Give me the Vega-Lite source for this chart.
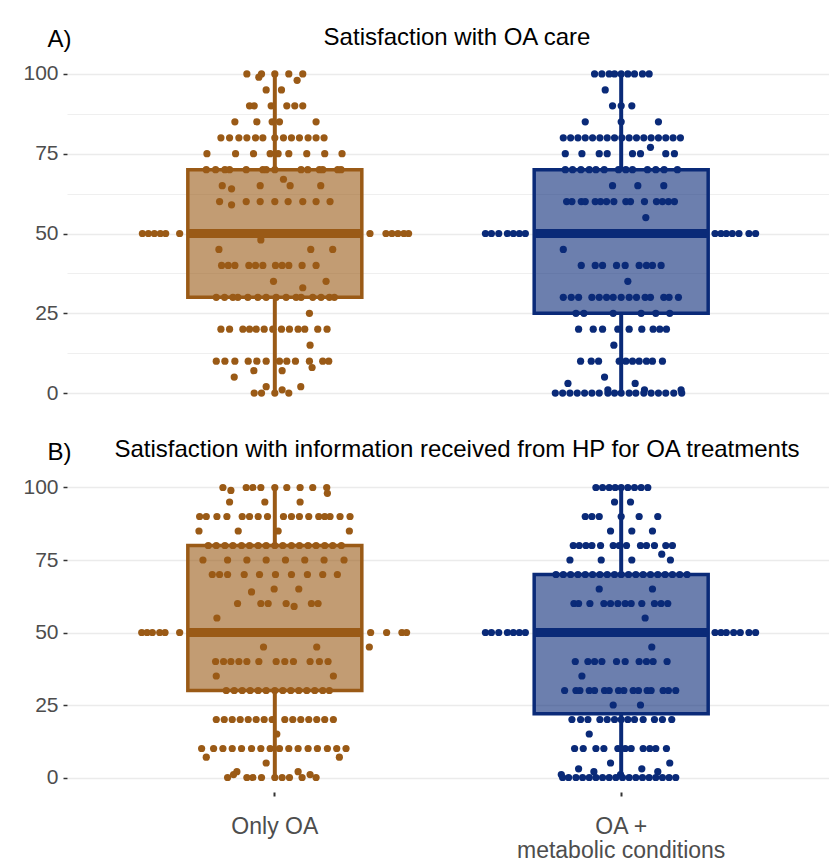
{
"$schema":"https://vega.github.io/schema/vega-lite/v6.json",
"padding":{"left":22,"top":26,"right":0,"bottom":0},
"spacing":29,
"config":{"view":{"stroke":null},"font":"Liberation Sans","axis":{"domain":false,"labelColor":"#4D4D4D","labelFont":"Liberation Sans","tickColor":"#333333"},"title":{"font":"Liberation Sans","fontSize":24,"fontWeight":"normal","color":"#000000"}},
"datasets":{
"box":[
{"p":"A","g":"o","lo":0,"q1":30,"med":50,"q3":70,"hi":100},
{"p":"A","g":"m","lo":0,"q1":25,"med":50,"q3":70,"hi":100},
{"p":"B","g":"o","lo":0,"q1":30,"med":50,"q3":80,"hi":100},
{"p":"B","g":"m","lo":0,"q1":22,"med":50,"q3":70,"hi":100}
],
"pts":[
{"p":"A","g":"o","v":100,"j":-84},{"p":"A","g":"o","v":100,"j":-40},{"p":"A","g":"o","v":100,"j":0},{"p":"A","g":"o","v":100,"j":42},{"p":"A","g":"o","v":100,"j":84},
{"p":"A","g":"o","v":99,"j":-48},{"p":"A","g":"o","v":98,"j":67},
{"p":"A","g":"o","v":95,"j":-26},{"p":"A","g":"o","v":95,"j":20},
{"p":"A","g":"o","v":90,"j":-76},{"p":"A","g":"o","v":90,"j":-62},{"p":"A","g":"o","v":90,"j":-11},{"p":"A","g":"o","v":90,"j":36},{"p":"A","g":"o","v":90,"j":60},{"p":"A","g":"o","v":90,"j":84},
{"p":"A","g":"o","v":85,"j":-120},{"p":"A","g":"o","v":85,"j":-54},{"p":"A","g":"o","v":85,"j":-8},{"p":"A","g":"o","v":85,"j":14},{"p":"A","g":"o","v":85,"j":124},
{"p":"A","g":"o","v":80,"j":-162},{"p":"A","g":"o","v":80,"j":-136},{"p":"A","g":"o","v":80,"j":-108},{"p":"A","g":"o","v":80,"j":-84},{"p":"A","g":"o","v":80,"j":-58},{"p":"A","g":"o","v":80,"j":-36},{"p":"A","g":"o","v":80,"j":0},{"p":"A","g":"o","v":80,"j":26},{"p":"A","g":"o","v":80,"j":50},{"p":"A","g":"o","v":80,"j":74},{"p":"A","g":"o","v":80,"j":100},{"p":"A","g":"o","v":80,"j":124},{"p":"A","g":"o","v":80,"j":148},
{"p":"A","g":"o","v":75,"j":-204},{"p":"A","g":"o","v":75,"j":-118},{"p":"A","g":"o","v":75,"j":-64},{"p":"A","g":"o","v":75,"j":-14},{"p":"A","g":"o","v":75,"j":10},{"p":"A","g":"o","v":75,"j":42},{"p":"A","g":"o","v":75,"j":96},{"p":"A","g":"o","v":75,"j":150},{"p":"A","g":"o","v":75,"j":202},
{"p":"A","g":"o","v":70,"j":-206},{"p":"A","g":"o","v":70,"j":-178},{"p":"A","g":"o","v":70,"j":-150},{"p":"A","g":"o","v":70,"j":-136},{"p":"A","g":"o","v":70,"j":-86},{"p":"A","g":"o","v":70,"j":-36},{"p":"A","g":"o","v":70,"j":-26},{"p":"A","g":"o","v":70,"j":0},{"p":"A","g":"o","v":70,"j":79},{"p":"A","g":"o","v":70,"j":99},{"p":"A","g":"o","v":70,"j":134},{"p":"A","g":"o","v":70,"j":144},{"p":"A","g":"o","v":70,"j":189},{"p":"A","g":"o","v":70,"j":199},
{"p":"A","g":"o","v":67,"j":26},
{"p":"A","g":"o","v":65,"j":-158},{"p":"A","g":"o","v":65,"j":-44},{"p":"A","g":"o","v":65,"j":46},{"p":"A","g":"o","v":65,"j":138},{"p":"A","g":"o","v":64,"j":-130},
{"p":"A","g":"o","v":60,"j":-166},{"p":"A","g":"o","v":60,"j":-86},{"p":"A","g":"o","v":60,"j":-44},{"p":"A","g":"o","v":60,"j":0},{"p":"A","g":"o","v":60,"j":40},{"p":"A","g":"o","v":60,"j":84},{"p":"A","g":"o","v":60,"j":124},{"p":"A","g":"o","v":60,"j":166},{"p":"A","g":"o","v":59,"j":-130},
{"p":"A","g":"o","v":50,"j":-398},{"p":"A","g":"o","v":50,"j":-380},{"p":"A","g":"o","v":50,"j":-362},{"p":"A","g":"o","v":50,"j":-344},{"p":"A","g":"o","v":50,"j":-328},{"p":"A","g":"o","v":50,"j":-286},{"p":"A","g":"o","v":50,"j":-250},{"p":"A","g":"o","v":50,"j":-200},{"p":"A","g":"o","v":50,"j":-150},{"p":"A","g":"o","v":50,"j":-100},{"p":"A","g":"o","v":50,"j":-50},{"p":"A","g":"o","v":50,"j":0},{"p":"A","g":"o","v":50,"j":50},{"p":"A","g":"o","v":50,"j":100},{"p":"A","g":"o","v":50,"j":150},{"p":"A","g":"o","v":50,"j":200},{"p":"A","g":"o","v":50,"j":250},{"p":"A","g":"o","v":50,"j":286},{"p":"A","g":"o","v":50,"j":334},{"p":"A","g":"o","v":50,"j":352},{"p":"A","g":"o","v":50,"j":370},{"p":"A","g":"o","v":50,"j":388},{"p":"A","g":"o","v":50,"j":402},
{"p":"A","g":"o","v":48,"j":-42},
{"p":"A","g":"o","v":45,"j":-168},{"p":"A","g":"o","v":45,"j":108},{"p":"A","g":"o","v":45,"j":174},
{"p":"A","g":"o","v":40,"j":-160},{"p":"A","g":"o","v":40,"j":-140},{"p":"A","g":"o","v":40,"j":-120},{"p":"A","g":"o","v":40,"j":-78},{"p":"A","g":"o","v":40,"j":-58},{"p":"A","g":"o","v":40,"j":-36},{"p":"A","g":"o","v":40,"j":2},{"p":"A","g":"o","v":40,"j":22},{"p":"A","g":"o","v":40,"j":42},{"p":"A","g":"o","v":40,"j":82},{"p":"A","g":"o","v":40,"j":124},
{"p":"A","g":"o","v":35,"j":-4},{"p":"A","g":"o","v":35,"j":154},{"p":"A","g":"o","v":33,"j":84},
{"p":"A","g":"o","v":30,"j":-176},{"p":"A","g":"o","v":30,"j":-151},{"p":"A","g":"o","v":30,"j":-126},{"p":"A","g":"o","v":30,"j":-111},{"p":"A","g":"o","v":30,"j":-81},{"p":"A","g":"o","v":30,"j":-51},{"p":"A","g":"o","v":30,"j":-26},{"p":"A","g":"o","v":30,"j":4},{"p":"A","g":"o","v":30,"j":34},{"p":"A","g":"o","v":30,"j":64},{"p":"A","g":"o","v":30,"j":79},{"p":"A","g":"o","v":30,"j":114},{"p":"A","g":"o","v":30,"j":139},{"p":"A","g":"o","v":30,"j":164},{"p":"A","g":"o","v":30,"j":179},
{"p":"A","g":"o","v":25,"j":104},
{"p":"A","g":"o","v":20,"j":-162},{"p":"A","g":"o","v":20,"j":-136},{"p":"A","g":"o","v":20,"j":-96},{"p":"A","g":"o","v":20,"j":-76},{"p":"A","g":"o","v":20,"j":-56},{"p":"A","g":"o","v":20,"j":-32},{"p":"A","g":"o","v":20,"j":-6},{"p":"A","g":"o","v":20,"j":20},{"p":"A","g":"o","v":20,"j":44},{"p":"A","g":"o","v":20,"j":70},{"p":"A","g":"o","v":20,"j":90},{"p":"A","g":"o","v":20,"j":129},{"p":"A","g":"o","v":20,"j":157},
{"p":"A","g":"o","v":15,"j":106},
{"p":"A","g":"o","v":10,"j":-176},{"p":"A","g":"o","v":10,"j":-150},{"p":"A","g":"o","v":10,"j":-120},{"p":"A","g":"o","v":10,"j":-80},{"p":"A","g":"o","v":10,"j":-54},{"p":"A","g":"o","v":10,"j":-26},{"p":"A","g":"o","v":10,"j":14},{"p":"A","g":"o","v":10,"j":36},{"p":"A","g":"o","v":10,"j":62},{"p":"A","g":"o","v":10,"j":104},{"p":"A","g":"o","v":10,"j":144},{"p":"A","g":"o","v":10,"j":162},
{"p":"A","g":"o","v":8,"j":112},{"p":"A","g":"o","v":7,"j":-63},{"p":"A","g":"o","v":7,"j":22},{"p":"A","g":"o","v":5,"j":-122},{"p":"A","g":"o","v":2,"j":-26},{"p":"A","g":"o","v":2,"j":78},{"p":"A","g":"o","v":1,"j":22},
{"p":"A","g":"o","v":0,"j":-62},{"p":"A","g":"o","v":0,"j":-40},{"p":"A","g":"o","v":0,"j":0},{"p":"A","g":"o","v":0,"j":42},

{"p":"A","g":"m","v":100,"j":-80},{"p":"A","g":"m","v":100,"j":-58},{"p":"A","g":"m","v":100,"j":-36},{"p":"A","g":"m","v":100,"j":-20},{"p":"A","g":"m","v":100,"j":0},{"p":"A","g":"m","v":100,"j":20},{"p":"A","g":"m","v":100,"j":40},{"p":"A","g":"m","v":100,"j":64},{"p":"A","g":"m","v":100,"j":84},
{"p":"A","g":"m","v":95,"j":-48},
{"p":"A","g":"m","v":90,"j":-26},{"p":"A","g":"m","v":90,"j":0},{"p":"A","g":"m","v":90,"j":32},
{"p":"A","g":"m","v":85,"j":-108},{"p":"A","g":"m","v":85,"j":0},{"p":"A","g":"m","v":85,"j":112},
{"p":"A","g":"m","v":80,"j":-174},{"p":"A","g":"m","v":80,"j":-152},{"p":"A","g":"m","v":80,"j":-130},{"p":"A","g":"m","v":80,"j":-108},{"p":"A","g":"m","v":80,"j":-86},{"p":"A","g":"m","v":80,"j":-64},{"p":"A","g":"m","v":80,"j":-42},{"p":"A","g":"m","v":80,"j":-20},{"p":"A","g":"m","v":80,"j":2},{"p":"A","g":"m","v":80,"j":24},{"p":"A","g":"m","v":80,"j":46},{"p":"A","g":"m","v":80,"j":68},{"p":"A","g":"m","v":80,"j":90},{"p":"A","g":"m","v":80,"j":112},{"p":"A","g":"m","v":80,"j":134},{"p":"A","g":"m","v":80,"j":156},{"p":"A","g":"m","v":80,"j":178},
{"p":"A","g":"m","v":77,"j":88},
{"p":"A","g":"m","v":75,"j":-168},{"p":"A","g":"m","v":75,"j":-118},{"p":"A","g":"m","v":75,"j":-66},{"p":"A","g":"m","v":75,"j":-42},{"p":"A","g":"m","v":75,"j":34},{"p":"A","g":"m","v":75,"j":58},{"p":"A","g":"m","v":75,"j":134},{"p":"A","g":"m","v":75,"j":160},
{"p":"A","g":"m","v":70,"j":-168},{"p":"A","g":"m","v":70,"j":-146},{"p":"A","g":"m","v":70,"j":-121},{"p":"A","g":"m","v":70,"j":-96},{"p":"A","g":"m","v":70,"j":-76},{"p":"A","g":"m","v":70,"j":-51},{"p":"A","g":"m","v":70,"j":-8},{"p":"A","g":"m","v":70,"j":14},{"p":"A","g":"m","v":70,"j":34},{"p":"A","g":"m","v":70,"j":79},{"p":"A","g":"m","v":70,"j":104},{"p":"A","g":"m","v":70,"j":129},{"p":"A","g":"m","v":70,"j":169},
{"p":"A","g":"m","v":65,"j":-26},{"p":"A","g":"m","v":65,"j":50},{"p":"A","g":"m","v":65,"j":128},
{"p":"A","g":"m","v":60,"j":-164},{"p":"A","g":"m","v":60,"j":-148},{"p":"A","g":"m","v":60,"j":-120},{"p":"A","g":"m","v":60,"j":-108},{"p":"A","g":"m","v":60,"j":-78},{"p":"A","g":"m","v":60,"j":-62},{"p":"A","g":"m","v":60,"j":-44},{"p":"A","g":"m","v":60,"j":-22},{"p":"A","g":"m","v":60,"j":14},{"p":"A","g":"m","v":60,"j":28},{"p":"A","g":"m","v":60,"j":70},{"p":"A","g":"m","v":60,"j":106},{"p":"A","g":"m","v":60,"j":124},{"p":"A","g":"m","v":60,"j":142},{"p":"A","g":"m","v":60,"j":160},
{"p":"A","g":"m","v":55,"j":74},
{"p":"A","g":"m","v":50,"j":-408},{"p":"A","g":"m","v":50,"j":-390},{"p":"A","g":"m","v":50,"j":-368},{"p":"A","g":"m","v":50,"j":-342},{"p":"A","g":"m","v":50,"j":-324},{"p":"A","g":"m","v":50,"j":-306},{"p":"A","g":"m","v":50,"j":-288},{"p":"A","g":"m","v":50,"j":-250},{"p":"A","g":"m","v":50,"j":-200},{"p":"A","g":"m","v":50,"j":-150},{"p":"A","g":"m","v":50,"j":-100},{"p":"A","g":"m","v":50,"j":-50},{"p":"A","g":"m","v":50,"j":0},{"p":"A","g":"m","v":50,"j":50},{"p":"A","g":"m","v":50,"j":100},{"p":"A","g":"m","v":50,"j":150},{"p":"A","g":"m","v":50,"j":200},{"p":"A","g":"m","v":50,"j":250},{"p":"A","g":"m","v":50,"j":282},{"p":"A","g":"m","v":50,"j":300},{"p":"A","g":"m","v":50,"j":316},{"p":"A","g":"m","v":50,"j":334},{"p":"A","g":"m","v":50,"j":354},{"p":"A","g":"m","v":50,"j":384},{"p":"A","g":"m","v":50,"j":404},
{"p":"A","g":"m","v":45,"j":-174},
{"p":"A","g":"m","v":40,"j":-120},{"p":"A","g":"m","v":40,"j":-78},{"p":"A","g":"m","v":40,"j":-56},{"p":"A","g":"m","v":40,"j":-14},{"p":"A","g":"m","v":40,"j":12},{"p":"A","g":"m","v":40,"j":54},{"p":"A","g":"m","v":40,"j":76},{"p":"A","g":"m","v":40,"j":94},{"p":"A","g":"m","v":40,"j":120},
{"p":"A","g":"m","v":35,"j":20},
{"p":"A","g":"m","v":30,"j":-174},{"p":"A","g":"m","v":30,"j":-150},{"p":"A","g":"m","v":30,"j":-128},{"p":"A","g":"m","v":30,"j":-88},{"p":"A","g":"m","v":30,"j":-66},{"p":"A","g":"m","v":30,"j":-44},{"p":"A","g":"m","v":30,"j":-24},{"p":"A","g":"m","v":30,"j":0},{"p":"A","g":"m","v":30,"j":24},{"p":"A","g":"m","v":30,"j":46},{"p":"A","g":"m","v":30,"j":72},{"p":"A","g":"m","v":30,"j":88},{"p":"A","g":"m","v":30,"j":128},{"p":"A","g":"m","v":30,"j":144},{"p":"A","g":"m","v":30,"j":172},
{"p":"A","g":"m","v":25,"j":-136},{"p":"A","g":"m","v":25,"j":-112},{"p":"A","g":"m","v":25,"j":-24},{"p":"A","g":"m","v":25,"j":60},{"p":"A","g":"m","v":25,"j":104},{"p":"A","g":"m","v":25,"j":146},
{"p":"A","g":"m","v":20,"j":-128},{"p":"A","g":"m","v":20,"j":-84},{"p":"A","g":"m","v":20,"j":-56},{"p":"A","g":"m","v":20,"j":-10},{"p":"A","g":"m","v":20,"j":24},{"p":"A","g":"m","v":20,"j":62},{"p":"A","g":"m","v":20,"j":96},{"p":"A","g":"m","v":20,"j":116},{"p":"A","g":"m","v":20,"j":136},
{"p":"A","g":"m","v":15,"j":-22},
{"p":"A","g":"m","v":10,"j":-122},{"p":"A","g":"m","v":10,"j":-90},{"p":"A","g":"m","v":10,"j":-68},{"p":"A","g":"m","v":10,"j":-6},{"p":"A","g":"m","v":10,"j":14},{"p":"A","g":"m","v":10,"j":34},{"p":"A","g":"m","v":10,"j":54},{"p":"A","g":"m","v":10,"j":76},{"p":"A","g":"m","v":10,"j":94},{"p":"A","g":"m","v":10,"j":124},
{"p":"A","g":"m","v":5,"j":-50},{"p":"A","g":"m","v":3,"j":-160},{"p":"A","g":"m","v":3,"j":42},{"p":"A","g":"m","v":1,"j":-40},{"p":"A","g":"m","v":1,"j":70},{"p":"A","g":"m","v":1,"j":180},
{"p":"A","g":"m","v":0,"j":-198},{"p":"A","g":"m","v":0,"j":-176},{"p":"A","g":"m","v":0,"j":-154},{"p":"A","g":"m","v":0,"j":-132},{"p":"A","g":"m","v":0,"j":-110},{"p":"A","g":"m","v":0,"j":-88},{"p":"A","g":"m","v":0,"j":-66},{"p":"A","g":"m","v":0,"j":-40},{"p":"A","g":"m","v":0,"j":-20},{"p":"A","g":"m","v":0,"j":0},{"p":"A","g":"m","v":0,"j":24},{"p":"A","g":"m","v":0,"j":44},{"p":"A","g":"m","v":0,"j":68},{"p":"A","g":"m","v":0,"j":90},{"p":"A","g":"m","v":0,"j":112},{"p":"A","g":"m","v":0,"j":134},{"p":"A","g":"m","v":0,"j":158},{"p":"A","g":"m","v":0,"j":182},

{"p":"B","g":"o","v":100,"j":-156},{"p":"B","g":"o","v":100,"j":-86},{"p":"B","g":"o","v":100,"j":-66},{"p":"B","g":"o","v":100,"j":-42},{"p":"B","g":"o","v":100,"j":0},{"p":"B","g":"o","v":100,"j":36},{"p":"B","g":"o","v":100,"j":76},{"p":"B","g":"o","v":100,"j":114},{"p":"B","g":"o","v":100,"j":156},
{"p":"B","g":"o","v":99,"j":-132},{"p":"B","g":"o","v":98,"j":158},
{"p":"B","g":"o","v":95,"j":-136},{"p":"B","g":"o","v":95,"j":-30},{"p":"B","g":"o","v":95,"j":76},
{"p":"B","g":"o","v":90,"j":-226},{"p":"B","g":"o","v":90,"j":-206},{"p":"B","g":"o","v":90,"j":-174},{"p":"B","g":"o","v":90,"j":-144},{"p":"B","g":"o","v":90,"j":-98},{"p":"B","g":"o","v":90,"j":-76},{"p":"B","g":"o","v":90,"j":-50},{"p":"B","g":"o","v":90,"j":-22},{"p":"B","g":"o","v":90,"j":26},{"p":"B","g":"o","v":90,"j":50},{"p":"B","g":"o","v":90,"j":74},{"p":"B","g":"o","v":90,"j":102},{"p":"B","g":"o","v":90,"j":132},{"p":"B","g":"o","v":90,"j":150},{"p":"B","g":"o","v":90,"j":166},{"p":"B","g":"o","v":90,"j":196},{"p":"B","g":"o","v":90,"j":226},
{"p":"B","g":"o","v":85,"j":-228},{"p":"B","g":"o","v":85,"j":-110},{"p":"B","g":"o","v":85,"j":10},{"p":"B","g":"o","v":85,"j":224},
{"p":"B","g":"o","v":80,"j":-200},{"p":"B","g":"o","v":80,"j":-176},{"p":"B","g":"o","v":80,"j":-150},{"p":"B","g":"o","v":80,"j":-126},{"p":"B","g":"o","v":80,"j":-100},{"p":"B","g":"o","v":80,"j":-76},{"p":"B","g":"o","v":80,"j":-50},{"p":"B","g":"o","v":80,"j":-26},{"p":"B","g":"o","v":80,"j":0},{"p":"B","g":"o","v":80,"j":24},{"p":"B","g":"o","v":80,"j":50},{"p":"B","g":"o","v":80,"j":74},{"p":"B","g":"o","v":80,"j":100},{"p":"B","g":"o","v":80,"j":124},{"p":"B","g":"o","v":80,"j":150},{"p":"B","g":"o","v":80,"j":174},{"p":"B","g":"o","v":80,"j":200},
{"p":"B","g":"o","v":75,"j":-216},{"p":"B","g":"o","v":75,"j":-142},{"p":"B","g":"o","v":75,"j":-84},{"p":"B","g":"o","v":75,"j":-26},{"p":"B","g":"o","v":75,"j":32},{"p":"B","g":"o","v":75,"j":90},{"p":"B","g":"o","v":75,"j":148},{"p":"B","g":"o","v":75,"j":208},
{"p":"B","g":"o","v":70,"j":-188},{"p":"B","g":"o","v":70,"j":-166},{"p":"B","g":"o","v":70,"j":-142},{"p":"B","g":"o","v":70,"j":-92},{"p":"B","g":"o","v":70,"j":-46},{"p":"B","g":"o","v":70,"j":2},{"p":"B","g":"o","v":70,"j":50},{"p":"B","g":"o","v":70,"j":98},{"p":"B","g":"o","v":70,"j":144},{"p":"B","g":"o","v":70,"j":188},
{"p":"B","g":"o","v":65,"j":-2},{"p":"B","g":"o","v":65,"j":72},{"p":"B","g":"o","v":64,"j":-70},
{"p":"B","g":"o","v":60,"j":-112},{"p":"B","g":"o","v":60,"j":-42},{"p":"B","g":"o","v":60,"j":-20},{"p":"B","g":"o","v":60,"j":34},{"p":"B","g":"o","v":60,"j":110},{"p":"B","g":"o","v":60,"j":130},{"p":"B","g":"o","v":59,"j":58},
{"p":"B","g":"o","v":55,"j":-174},
{"p":"B","g":"o","v":50,"j":-400},{"p":"B","g":"o","v":50,"j":-384},{"p":"B","g":"o","v":50,"j":-368},{"p":"B","g":"o","v":50,"j":-346},{"p":"B","g":"o","v":50,"j":-330},{"p":"B","g":"o","v":50,"j":-286},{"p":"B","g":"o","v":50,"j":-250},{"p":"B","g":"o","v":50,"j":-200},{"p":"B","g":"o","v":50,"j":-150},{"p":"B","g":"o","v":50,"j":-100},{"p":"B","g":"o","v":50,"j":-50},{"p":"B","g":"o","v":50,"j":0},{"p":"B","g":"o","v":50,"j":50},{"p":"B","g":"o","v":50,"j":100},{"p":"B","g":"o","v":50,"j":150},{"p":"B","g":"o","v":50,"j":200},{"p":"B","g":"o","v":50,"j":250},{"p":"B","g":"o","v":50,"j":288},{"p":"B","g":"o","v":50,"j":336},{"p":"B","g":"o","v":50,"j":382},{"p":"B","g":"o","v":50,"j":396},
{"p":"B","g":"o","v":45,"j":-34},{"p":"B","g":"o","v":45,"j":126},{"p":"B","g":"o","v":45,"j":284},
{"p":"B","g":"o","v":40,"j":-178},{"p":"B","g":"o","v":40,"j":-154},{"p":"B","g":"o","v":40,"j":-132},{"p":"B","g":"o","v":40,"j":-108},{"p":"B","g":"o","v":40,"j":-84},{"p":"B","g":"o","v":40,"j":-48},{"p":"B","g":"o","v":40,"j":4},{"p":"B","g":"o","v":40,"j":30},{"p":"B","g":"o","v":40,"j":56},{"p":"B","g":"o","v":40,"j":106},{"p":"B","g":"o","v":40,"j":134},{"p":"B","g":"o","v":40,"j":160},
{"p":"B","g":"o","v":35,"j":-176},{"p":"B","g":"o","v":35,"j":176},
{"p":"B","g":"o","v":30,"j":-146},{"p":"B","g":"o","v":30,"j":-122},{"p":"B","g":"o","v":30,"j":-98},{"p":"B","g":"o","v":30,"j":-74},{"p":"B","g":"o","v":30,"j":-50},{"p":"B","g":"o","v":30,"j":-26},{"p":"B","g":"o","v":30,"j":0},{"p":"B","g":"o","v":30,"j":24},{"p":"B","g":"o","v":30,"j":48},{"p":"B","g":"o","v":30,"j":72},{"p":"B","g":"o","v":30,"j":96},{"p":"B","g":"o","v":30,"j":120},{"p":"B","g":"o","v":30,"j":144},{"p":"B","g":"o","v":30,"j":164},
{"p":"B","g":"o","v":20,"j":-176},{"p":"B","g":"o","v":20,"j":-152},{"p":"B","g":"o","v":20,"j":-128},{"p":"B","g":"o","v":20,"j":-104},{"p":"B","g":"o","v":20,"j":-80},{"p":"B","g":"o","v":20,"j":-56},{"p":"B","g":"o","v":20,"j":-32},{"p":"B","g":"o","v":20,"j":-8},{"p":"B","g":"o","v":20,"j":30},{"p":"B","g":"o","v":20,"j":54},{"p":"B","g":"o","v":20,"j":78},{"p":"B","g":"o","v":20,"j":102},{"p":"B","g":"o","v":20,"j":126},{"p":"B","g":"o","v":20,"j":150},{"p":"B","g":"o","v":20,"j":176},
{"p":"B","g":"o","v":15,"j":6},
{"p":"B","g":"o","v":10,"j":-220},{"p":"B","g":"o","v":10,"j":-184},{"p":"B","g":"o","v":10,"j":-156},{"p":"B","g":"o","v":10,"j":-128},{"p":"B","g":"o","v":10,"j":-100},{"p":"B","g":"o","v":10,"j":-70},{"p":"B","g":"o","v":10,"j":-42},{"p":"B","g":"o","v":10,"j":-14},{"p":"B","g":"o","v":10,"j":14},{"p":"B","g":"o","v":10,"j":42},{"p":"B","g":"o","v":10,"j":70},{"p":"B","g":"o","v":10,"j":100},{"p":"B","g":"o","v":10,"j":128},{"p":"B","g":"o","v":10,"j":158},{"p":"B","g":"o","v":10,"j":186},{"p":"B","g":"o","v":10,"j":214},
{"p":"B","g":"o","v":7,"j":-206},{"p":"B","g":"o","v":7,"j":194},{"p":"B","g":"o","v":5,"j":-26},{"p":"B","g":"o","v":2,"j":-114},{"p":"B","g":"o","v":2,"j":70},{"p":"B","g":"o","v":1,"j":-124},{"p":"B","g":"o","v":1,"j":106},
{"p":"B","g":"o","v":0,"j":-142},{"p":"B","g":"o","v":0,"j":-84},{"p":"B","g":"o","v":0,"j":-66},{"p":"B","g":"o","v":0,"j":-40},{"p":"B","g":"o","v":0,"j":0},{"p":"B","g":"o","v":0,"j":22},{"p":"B","g":"o","v":0,"j":44},{"p":"B","g":"o","v":0,"j":82},{"p":"B","g":"o","v":0,"j":124},

{"p":"B","g":"m","v":100,"j":-76},{"p":"B","g":"m","v":100,"j":-56},{"p":"B","g":"m","v":100,"j":-36},{"p":"B","g":"m","v":100,"j":-18},{"p":"B","g":"m","v":100,"j":0},{"p":"B","g":"m","v":100,"j":20},{"p":"B","g":"m","v":100,"j":40},{"p":"B","g":"m","v":100,"j":60},{"p":"B","g":"m","v":100,"j":80},
{"p":"B","g":"m","v":95,"j":-20},{"p":"B","g":"m","v":95,"j":28},
{"p":"B","g":"m","v":90,"j":-108},{"p":"B","g":"m","v":90,"j":-88},{"p":"B","g":"m","v":90,"j":-66},{"p":"B","g":"m","v":90,"j":0},{"p":"B","g":"m","v":90,"j":54},{"p":"B","g":"m","v":90,"j":110},
{"p":"B","g":"m","v":85,"j":-32},{"p":"B","g":"m","v":85,"j":32},{"p":"B","g":"m","v":85,"j":94},
{"p":"B","g":"m","v":80,"j":-144},{"p":"B","g":"m","v":80,"j":-126},{"p":"B","g":"m","v":80,"j":-106},{"p":"B","g":"m","v":80,"j":-88},{"p":"B","g":"m","v":80,"j":-62},{"p":"B","g":"m","v":80,"j":-24},{"p":"B","g":"m","v":80,"j":-6},{"p":"B","g":"m","v":80,"j":16},{"p":"B","g":"m","v":80,"j":58},{"p":"B","g":"m","v":80,"j":76},{"p":"B","g":"m","v":80,"j":100},{"p":"B","g":"m","v":80,"j":134},{"p":"B","g":"m","v":80,"j":154},
{"p":"B","g":"m","v":77,"j":122},
{"p":"B","g":"m","v":75,"j":-154},{"p":"B","g":"m","v":75,"j":-60},{"p":"B","g":"m","v":75,"j":32},{"p":"B","g":"m","v":75,"j":148},
{"p":"B","g":"m","v":70,"j":-196},{"p":"B","g":"m","v":70,"j":-174},{"p":"B","g":"m","v":70,"j":-152},{"p":"B","g":"m","v":70,"j":-130},{"p":"B","g":"m","v":70,"j":-108},{"p":"B","g":"m","v":70,"j":-86},{"p":"B","g":"m","v":70,"j":-64},{"p":"B","g":"m","v":70,"j":-42},{"p":"B","g":"m","v":70,"j":-20},{"p":"B","g":"m","v":70,"j":0},{"p":"B","g":"m","v":70,"j":22},{"p":"B","g":"m","v":70,"j":44},{"p":"B","g":"m","v":70,"j":66},{"p":"B","g":"m","v":70,"j":88},{"p":"B","g":"m","v":70,"j":110},{"p":"B","g":"m","v":70,"j":132},{"p":"B","g":"m","v":70,"j":154},{"p":"B","g":"m","v":70,"j":176},{"p":"B","g":"m","v":70,"j":198},
{"p":"B","g":"m","v":65,"j":-66},{"p":"B","g":"m","v":65,"j":94},
{"p":"B","g":"m","v":60,"j":-142},{"p":"B","g":"m","v":60,"j":-128},{"p":"B","g":"m","v":60,"j":-94},{"p":"B","g":"m","v":60,"j":-52},{"p":"B","g":"m","v":60,"j":-32},{"p":"B","g":"m","v":60,"j":-10},{"p":"B","g":"m","v":60,"j":12},{"p":"B","g":"m","v":60,"j":30},{"p":"B","g":"m","v":60,"j":62},{"p":"B","g":"m","v":60,"j":100},{"p":"B","g":"m","v":60,"j":120},{"p":"B","g":"m","v":60,"j":140},
{"p":"B","g":"m","v":55,"j":72},
{"p":"B","g":"m","v":50,"j":-408},{"p":"B","g":"m","v":50,"j":-390},{"p":"B","g":"m","v":50,"j":-368},{"p":"B","g":"m","v":50,"j":-342},{"p":"B","g":"m","v":50,"j":-324},{"p":"B","g":"m","v":50,"j":-306},{"p":"B","g":"m","v":50,"j":-288},{"p":"B","g":"m","v":50,"j":-250},{"p":"B","g":"m","v":50,"j":-200},{"p":"B","g":"m","v":50,"j":-150},{"p":"B","g":"m","v":50,"j":-100},{"p":"B","g":"m","v":50,"j":-50},{"p":"B","g":"m","v":50,"j":0},{"p":"B","g":"m","v":50,"j":50},{"p":"B","g":"m","v":50,"j":100},{"p":"B","g":"m","v":50,"j":150},{"p":"B","g":"m","v":50,"j":200},{"p":"B","g":"m","v":50,"j":250},{"p":"B","g":"m","v":50,"j":282},{"p":"B","g":"m","v":50,"j":300},{"p":"B","g":"m","v":50,"j":316},{"p":"B","g":"m","v":50,"j":338},{"p":"B","g":"m","v":50,"j":358},{"p":"B","g":"m","v":50,"j":384},{"p":"B","g":"m","v":50,"j":404},
{"p":"B","g":"m","v":45,"j":92},
{"p":"B","g":"m","v":40,"j":-138},{"p":"B","g":"m","v":40,"j":-100},{"p":"B","g":"m","v":40,"j":-80},{"p":"B","g":"m","v":40,"j":-58},{"p":"B","g":"m","v":40,"j":-14},{"p":"B","g":"m","v":40,"j":12},{"p":"B","g":"m","v":40,"j":54},{"p":"B","g":"m","v":40,"j":76},{"p":"B","g":"m","v":40,"j":96},{"p":"B","g":"m","v":40,"j":138},
{"p":"B","g":"m","v":35,"j":-118},
{"p":"B","g":"m","v":30,"j":-170},{"p":"B","g":"m","v":30,"j":-136},{"p":"B","g":"m","v":30,"j":-124},{"p":"B","g":"m","v":30,"j":-96},{"p":"B","g":"m","v":30,"j":-80},{"p":"B","g":"m","v":30,"j":-50},{"p":"B","g":"m","v":30,"j":-36},{"p":"B","g":"m","v":30,"j":-8},{"p":"B","g":"m","v":30,"j":8},{"p":"B","g":"m","v":30,"j":36},{"p":"B","g":"m","v":30,"j":52},{"p":"B","g":"m","v":30,"j":78},{"p":"B","g":"m","v":30,"j":90},{"p":"B","g":"m","v":30,"j":126},{"p":"B","g":"m","v":30,"j":142},{"p":"B","g":"m","v":30,"j":164},
{"p":"B","g":"m","v":25,"j":-24},{"p":"B","g":"m","v":25,"j":58},
{"p":"B","g":"m","v":20,"j":-148},{"p":"B","g":"m","v":20,"j":-122},{"p":"B","g":"m","v":20,"j":-100},{"p":"B","g":"m","v":20,"j":-64},{"p":"B","g":"m","v":20,"j":-42},{"p":"B","g":"m","v":20,"j":-20},{"p":"B","g":"m","v":20,"j":0},{"p":"B","g":"m","v":20,"j":20},{"p":"B","g":"m","v":20,"j":40},{"p":"B","g":"m","v":20,"j":66},{"p":"B","g":"m","v":20,"j":100},{"p":"B","g":"m","v":20,"j":124},{"p":"B","g":"m","v":20,"j":152},
{"p":"B","g":"m","v":15,"j":-96},
{"p":"B","g":"m","v":10,"j":-140},{"p":"B","g":"m","v":10,"j":-114},{"p":"B","g":"m","v":10,"j":-76},{"p":"B","g":"m","v":10,"j":-52},{"p":"B","g":"m","v":10,"j":-10},{"p":"B","g":"m","v":10,"j":12},{"p":"B","g":"m","v":10,"j":30},{"p":"B","g":"m","v":10,"j":66},{"p":"B","g":"m","v":10,"j":86},{"p":"B","g":"m","v":10,"j":104},{"p":"B","g":"m","v":10,"j":136},
{"p":"B","g":"m","v":5,"j":-32},{"p":"B","g":"m","v":5,"j":146},{"p":"B","g":"m","v":3,"j":-128},{"p":"B","g":"m","v":3,"j":62},{"p":"B","g":"m","v":2,"j":-82},{"p":"B","g":"m","v":2,"j":110},{"p":"B","g":"m","v":1,"j":-180},{"p":"B","g":"m","v":1,"j":-2},
{"p":"B","g":"m","v":0,"j":-176},{"p":"B","g":"m","v":0,"j":-158},{"p":"B","g":"m","v":0,"j":-136},{"p":"B","g":"m","v":0,"j":-116},{"p":"B","g":"m","v":0,"j":-96},{"p":"B","g":"m","v":0,"j":-76},{"p":"B","g":"m","v":0,"j":-56},{"p":"B","g":"m","v":0,"j":-36},{"p":"B","g":"m","v":0,"j":-16},{"p":"B","g":"m","v":0,"j":4},{"p":"B","g":"m","v":0,"j":24},{"p":"B","g":"m","v":0,"j":44},{"p":"B","g":"m","v":0,"j":64},{"p":"B","g":"m","v":0,"j":84},{"p":"B","g":"m","v":0,"j":104},{"p":"B","g":"m","v":0,"j":124},{"p":"B","g":"m","v":0,"j":144},{"p":"B","g":"m","v":0,"j":164}
]
},
"vconcat":[
{
"width":762,"height":351,
"title":{"text":"Satisfaction with OA care","dx":9,"offset":-42,"baseline":"alphabetic","anchor":"middle"},
"encoding":{"x":{"field":"g","type":"nominal","scale":{"domain":["o","m"],"paddingInner":0,"paddingOuter":0.1},"axis":null}},
"layer":[
{"data":{"name":"box"},"transform":[{"filter":"datum.p == 'A'"}],"mark":{"type":"bar","width":174,"opacity":0.6},
"encoding":{"y":{"field":"q1","type":"quantitative","scale":{"domain":[-5,105],"nice":false,"zero":false},
"axis":{"values":[0,12.5,25,37.5,50,62.5,75,87.5,100],"labelExpr":"datum.value % 25 == 0 ? datum.label : ''","labelOverlap":false,"labelFlush":false,"grid":true,"gridColor":"#EBEBEB","gridWidth":{"condition":{"test":"datum.value % 25 != 0","value":0.8},"value":1.6},"tickSize":4,"tickWidth":1.5,"tickOpacity":{"condition":{"test":"datum.value % 25 != 0","value":0},"value":1},"labelFontSize":21,"labelPadding":5,"title":"A)","titleAngle":0,"titleAlign":"left","titleBaseline":"alphabetic","titleX":-20,"titleY":-12,"titleFontSize":24,"titleFontWeight":"normal","titleColor":"#000000","titleFont":"Liberation Sans"}},
"y2":{"field":"q3"},
"color":{"field":"g","type":"nominal","scale":{"domain":["o","m"],"range":["#9A5A16","#0A2A78"]},"legend":null}}},
{"data":{"name":"pts"},"transform":[{"filter":"datum.p == 'A'"}],"mark":{"type":"circle","size":52,"opacity":1},
"encoding":{"y":{"field":"v","type":"quantitative"},"xOffset":{"field":"j","type":"quantitative","scale":{"domain":[-520.5,520.5]}},"color":{"field":"g","type":"nominal","legend":null}}},
{"data":{"name":"box"},"transform":[{"filter":"datum.p == 'A'"}],"mark":{"type":"rule","strokeWidth":4},
"encoding":{"y":{"field":"q3","type":"quantitative"},"y2":{"field":"hi"},"color":{"field":"g","type":"nominal","legend":null}}},
{"data":{"name":"box"},"transform":[{"filter":"datum.p == 'A'"}],"mark":{"type":"rule","strokeWidth":4},
"encoding":{"y":{"field":"lo","type":"quantitative"},"y2":{"field":"q1"},"color":{"field":"g","type":"nominal","legend":null}}},
{"data":{"name":"box"},"transform":[{"filter":"datum.p == 'A'"}],"mark":{"type":"bar","width":174,"fillOpacity":0,"strokeWidth":3.5},
"encoding":{"y":{"field":"q1","type":"quantitative"},"y2":{"field":"q3"},"stroke":{"field":"g","type":"nominal","scale":{"domain":["o","m"],"range":["#9A5A16","#0A2A78"]},"legend":null}}},
{"data":{"name":"box"},"transform":[{"filter":"datum.p == 'A'"}],"mark":{"type":"tick","orient":"horizontal","thickness":9,"size":174,"opacity":1},
"encoding":{"y":{"field":"med","type":"quantitative"},"color":{"field":"g","type":"nominal","legend":null}}}
]
},
{
"width":762,"height":319,
"title":{"text":"Satisfaction with information received from HP for OA treatments","dx":9,"offset":-41,"baseline":"alphabetic","anchor":"middle"},
"encoding":{"x":{"field":"g","type":"nominal","scale":{"domain":["o","m"],"paddingInner":0,"paddingOuter":0.1},"axis":{"title":null,"labelAngle":0,"labelExpr":"datum.value == 'o' ? 'Only OA' : ['OA +', 'metabolic conditions']","labelFontSize":23,"labelLineHeight":24,"labelPadding":19,"labelLimit":500,"tickSize":4,"tickWidth":2,"tickColor":"#333333","grid":false}}},
"layer":[
{"data":{"name":"box"},"transform":[{"filter":"datum.p == 'B'"}],"mark":{"type":"bar","width":174,"opacity":0.6},
"encoding":{"y":{"field":"q1","type":"quantitative","scale":{"domain":[-5,105],"nice":false,"zero":false},
"axis":{"values":[0,12.5,25,37.5,50,62.5,75,87.5,100],"labelExpr":"datum.value % 25 == 0 ? datum.label : ''","labelOverlap":false,"labelFlush":false,"grid":true,"gridColor":"#EBEBEB","gridWidth":{"condition":{"test":"datum.value % 25 != 0","value":0.8},"value":1.6},"tickSize":4,"tickWidth":1.5,"tickOpacity":{"condition":{"test":"datum.value % 25 != 0","value":0},"value":1},"labelFontSize":21,"labelPadding":5,"title":"B)","titleAngle":0,"titleAlign":"left","titleBaseline":"alphabetic","titleX":-20,"titleY":-14,"titleFontSize":24,"titleFontWeight":"normal","titleColor":"#000000","titleFont":"Liberation Sans"}},
"y2":{"field":"q3"},
"color":{"field":"g","type":"nominal","scale":{"domain":["o","m"],"range":["#9A5A16","#0A2A78"]},"legend":null}}},
{"data":{"name":"pts"},"transform":[{"filter":"datum.p == 'B'"}],"mark":{"type":"circle","size":52,"opacity":1},
"encoding":{"y":{"field":"v","type":"quantitative"},"xOffset":{"field":"j","type":"quantitative","scale":{"domain":[-520.5,520.5]}},"color":{"field":"g","type":"nominal","legend":null}}},
{"data":{"name":"box"},"transform":[{"filter":"datum.p == 'B'"}],"mark":{"type":"rule","strokeWidth":4},
"encoding":{"y":{"field":"q3","type":"quantitative"},"y2":{"field":"hi"},"color":{"field":"g","type":"nominal","legend":null}}},
{"data":{"name":"box"},"transform":[{"filter":"datum.p == 'B'"}],"mark":{"type":"rule","strokeWidth":4},
"encoding":{"y":{"field":"lo","type":"quantitative"},"y2":{"field":"q1"},"color":{"field":"g","type":"nominal","legend":null}}},
{"data":{"name":"box"},"transform":[{"filter":"datum.p == 'B'"}],"mark":{"type":"bar","width":174,"fillOpacity":0,"strokeWidth":3.5},
"encoding":{"y":{"field":"q1","type":"quantitative"},"y2":{"field":"q3"},"stroke":{"field":"g","type":"nominal","scale":{"domain":["o","m"],"range":["#9A5A16","#0A2A78"]},"legend":null}}},
{"data":{"name":"box"},"transform":[{"filter":"datum.p == 'B'"}],"mark":{"type":"tick","orient":"horizontal","thickness":9,"size":174,"opacity":1},
"encoding":{"y":{"field":"med","type":"quantitative"},"color":{"field":"g","type":"nominal","legend":null}}}
]
}
]
}
